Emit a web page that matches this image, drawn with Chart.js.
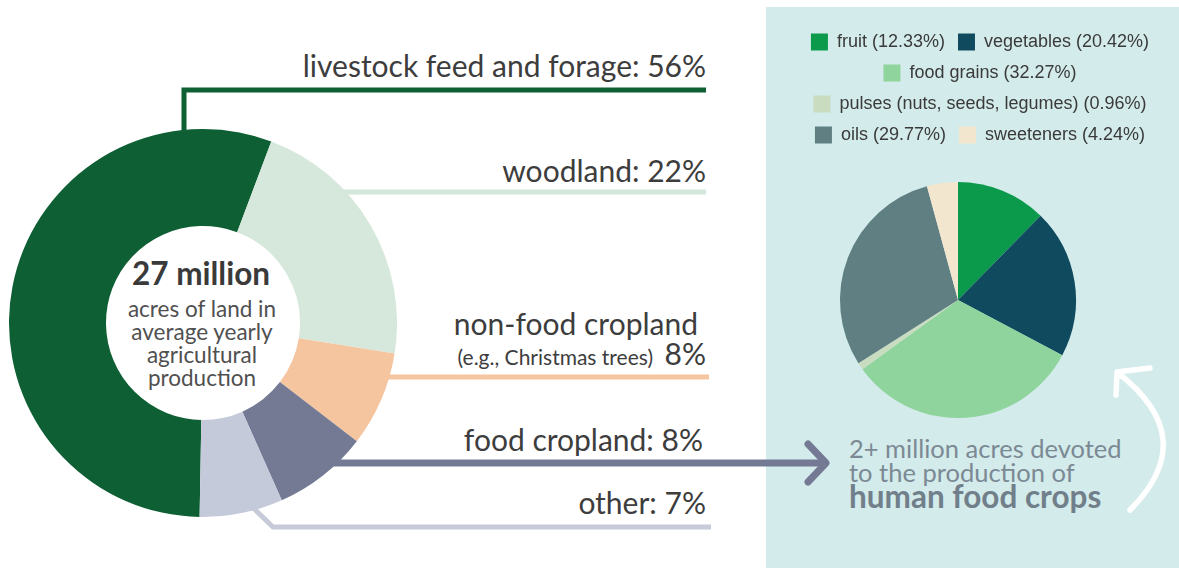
<!DOCTYPE html>
<html>
<head>
<meta charset="utf-8">
<script src="https://cdn.jsdelivr.net/npm/chart.js@4.4.1/dist/chart.umd.min.js"></script>
<style>
html,body{margin:0;padding:0;background:#fff;}
#stage{position:relative;width:1179px;height:571px;overflow:hidden;}
#art{position:absolute;left:0;top:0;}
#donutBox{position:absolute;left:9px;top:129px;width:388px;height:388px;}
#pieBox{position:absolute;left:781px;top:20px;width:398px;height:426px;}
svg text{font-family:Lato,"Open Sans",sans-serif;}
</style>
</head>
<body>
<div id="stage">
<svg id="art" width="1179" height="571" viewBox="0 0 1179 571" xmlns="http://www.w3.org/2000/svg">
  <rect x="766" y="7" width="413" height="561" fill="#d3ebea"/>
  <g fill="none" stroke-linecap="butt">
    <path d="M184,140 V90 H706" stroke="#0e5f33" stroke-width="5"/>
    <path d="M340,192 H706" stroke="#d4e7da" stroke-width="5"/>
    <path d="M380,377 H709" stroke="#f5c6a0" stroke-width="5"/>
    <path d="M330,463 H822" stroke="#747a93" stroke-width="7"/>
    <path d="M808,444 L826,463 L808,482" stroke="#747a93" stroke-width="7" stroke-linecap="round" stroke-linejoin="round"/>
    <path d="M245,500 L273,527 H711" stroke="#c6cad9" stroke-width="5"/>
    <path d="M1130,510 Q1202,438 1118,373" stroke="#ffffff" stroke-width="5.5" stroke-linecap="round"/>
    <path d="M1150,368 L1117,372 L1116,395" stroke="#ffffff" stroke-width="5.5" stroke-linecap="round" stroke-linejoin="round"/>
  </g>
  <g id="labels" fill="#3d3d3d" font-size="30" text-anchor="end"></g>
  <g id="center" text-anchor="middle"></g>
  <g id="note" fill="#7b8995"></g>
</svg>
<div id="donutBox"><canvas id="donut"></canvas></div>
<div id="pieBox"><canvas id="pie"></canvas></div>
</div>
<script>
// ---- data ----
const landCategories = ['livestock feed and forage', 'woodland', 'non-food cropland', 'food cropland', 'other'];
const landShares = [56, 22, 8, 8, 7];
const cropCategories = ['fruit', 'vegetables', 'food grains', 'pulses (nuts, seeds, legumes)', 'oils', 'sweeteners'];
const cropShares = [12.33, 20.42, 32.27, 0.96, 29.77, 4.24];
const centerTitle = '27 million';
const centerLines = ['acres of land in', 'average yearly', 'agricultural', 'production'];
const noteLines = ['2+ million acres devoted', 'to the production of', 'human food crops'];
const nonFoodExample = '(e.g., Christmas trees)';

// ---- styles ----
const landColors = ['#0e5f33', '#d5e8db', '#f5c5a0', '#747a94', '#c5cadb'];
const cropColors = ['#0b9a4b', '#0f4a5e', '#8fd49c', '#c9dcc0', '#5f7f83', '#f3e6cf'];

const NS = 'http://www.w3.org/2000/svg';
function addText(parent, str, x, y, attrs) {
  const t = document.createElementNS(NS, 'text');
  t.setAttribute('x', x); t.setAttribute('y', y);
  for (const k in (attrs || {})) t.setAttribute(k, attrs[k]);
  t.textContent = str;
  parent.appendChild(t);
  return t;
}
const lab = document.getElementById('labels');
addText(lab, `${landCategories[0]}: ${landShares[0]}%`, 706, 77);
addText(lab, `${landCategories[1]}: ${landShares[1]}%`, 706, 182);
addText(lab, landCategories[2], 698, 335);
addText(lab, nonFoodExample, 653, 365, {'font-size': 21});
addText(lab, `${landShares[2]}%`, 706, 365);
addText(lab, `${landCategories[3]}: ${landShares[3]}%`, 703, 451);
addText(lab, `${landCategories[4]}: ${landShares[4]}%`, 706, 514);

const cen = document.getElementById('center');
addText(cen, centerTitle, 201, 285, {'font-size': 31.5, 'font-weight': 'bold', fill: '#3a3a3a'});
const cy = [317, 340, 363, 386];
centerLines.forEach((s, i) => addText(cen, s, 202, cy[i], {'font-size': 22.5, fill: '#505050'}));

const note = document.getElementById('note');
addText(note, noteLines[0], 849, 458, {'font-size': 25.5});
addText(note, noteLines[1], 849, 482, {'font-size': 25.5});
addText(note, noteLines[2], 849, 508, {'font-size': 31.5, 'font-weight': 'bold', fill: '#717f8b'});

// ---- charts ----
new Chart(document.getElementById('donut'), {
  type: 'doughnut',
  data: {
    labels: landCategories,
    datasets: [{ data: landShares, backgroundColor: landColors, borderWidth: 0 }]
  },
  options: {
    responsive: true, maintainAspectRatio: false, animation: false, events: [],
    rotation: 181, cutout: '50%',
    layout: { padding: 0 },
    plugins: { legend: { display: false }, tooltip: { enabled: false } }
  }
});

const shiftArea = {
  id: 'shiftArea',
  afterLayout(chart) { chart.chartArea.left -= 22; chart.chartArea.right -= 22; }
};
new Chart(document.getElementById('pie'), {
  type: 'pie',
  data: {
    labels: cropCategories.map((c, i) => `${c} (${cropShares[i].toFixed(2)}%)`),
    datasets: [{ data: cropShares, backgroundColor: cropColors, borderWidth: 0 }]
  },
  options: {
    responsive: true, maintainAspectRatio: false, animation: false, events: [],
    radius: 118,
    layout: { padding: 0 },
    plugins: {
      legend: {
        position: 'top', align: 'center',
        labels: {
          font: { family: '"Liberation Sans", Arial, sans-serif', size: 18 },
          color: '#3a3a3a', boxWidth: 17, boxHeight: 17, padding: 13
        }
      },
      tooltip: { enabled: false }
    }
  },
  plugins: [shiftArea]
});
</script>
</body>
</html>
